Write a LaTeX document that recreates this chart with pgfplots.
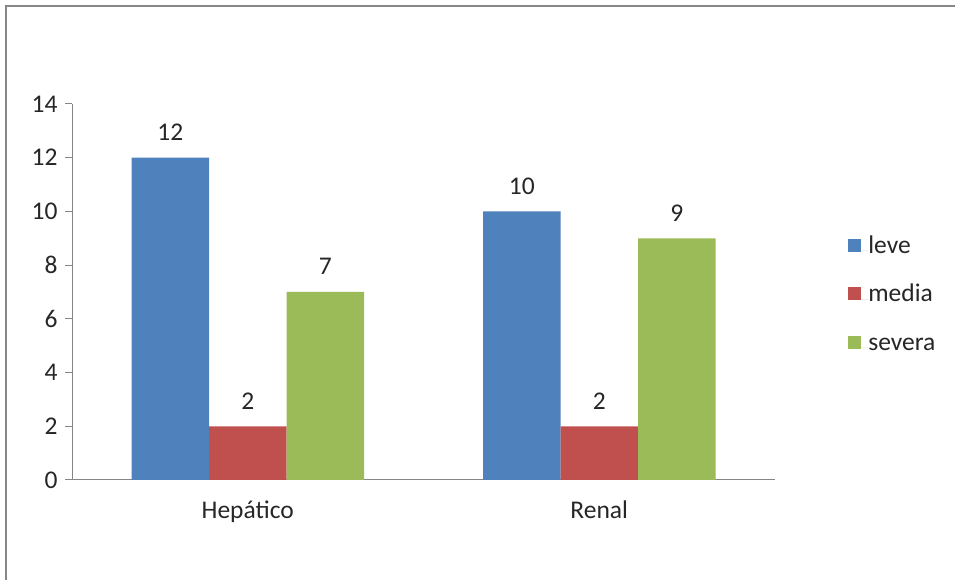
\documentclass[border=0pt]{standalone}
\usepackage{pgfplots}
\pgfplotsset{compat=1.18}
\usepackage{fontspec}
\setmainfont{Carlito}
\definecolor{cblue}{HTML}{4F81BD}
\definecolor{cred}{HTML}{C0504D}
\definecolor{cgreen}{HTML}{9BBB59}
\definecolor{axgray}{HTML}{868686}
\newcommand{\cfont}{\fontsize{25.5bp}{30bp}\selectfont}
\begin{document}
\begin{tikzpicture}
\useasboundingbox (0,0) rectangle (955bp,580bp);
\draw[axgray, line width=2bp] (6bp,0) -- (6bp,574bp) -- (955bp,574bp);
\begin{axis}[
  at={(72bp,100bp)}, anchor=south west,
  scale only axis, width=703bp, height=376bp,
  ybar, bar width=77.5bp,
  xmin=-0.5, xmax=1.5, ymin=0, ymax=14,
  xtick={0,1}, xticklabels={Hepático,Renal},
  ytick={0,2,...,14},
  axis x line*=bottom, axis y line*=left,
  axis line style={axgray, line width=1bp, -},
  x axis line style={-}, y axis line style={-},
  major tick length=7bp,
  tick style={axgray, line width=1bp},
  xtick style={draw=none},
  ytick pos=left, tick align=outside,
  extra x ticks={-0.5,0.5,1.5}, extra x tick labels={},
  extra x tick style={tick style={draw=axgray, line width=1bp}, major tick length=8bp, tick align=outside},
  /pgf/number format/assume math mode=true,
  ticklabel style={font=\cfont, text=black!85},
  yticklabel style={xshift=-4bp},
  xticklabel style={yshift=-10bp},
  nodes near coords,
  every node near coord/.append style={font=\cfont, text=black!85, inner sep=0pt, yshift=17bp},
  legend style={at={(1.104,0.492)}, anchor=west, draw=none, fill=none,
    font=\cfont, text=black!85, row sep=33bp, inner sep=0pt,
    nodes={text height=0.62em, text depth=0.1em, inner sep=0pt}},
  legend cell align=left,
  legend image code/.code={\fill[#1] (0bp,-1bp) rectangle (13bp,12bp); \path (0bp,0bp) -- (20bp,0bp);},
]
\addplot[fill=cblue, draw=none, bar shift=-77.5bp] coordinates {(0,12) (1,10)};
\addplot[fill=cred, draw=none, bar shift=0bp] coordinates {(0,2) (1,2)};
\addplot[fill=cgreen, draw=none, bar shift=77.5bp] coordinates {(0,7) (1,9)};
\legend{leve,media,severa}
\end{axis}
\end{tikzpicture}
\end{document}
